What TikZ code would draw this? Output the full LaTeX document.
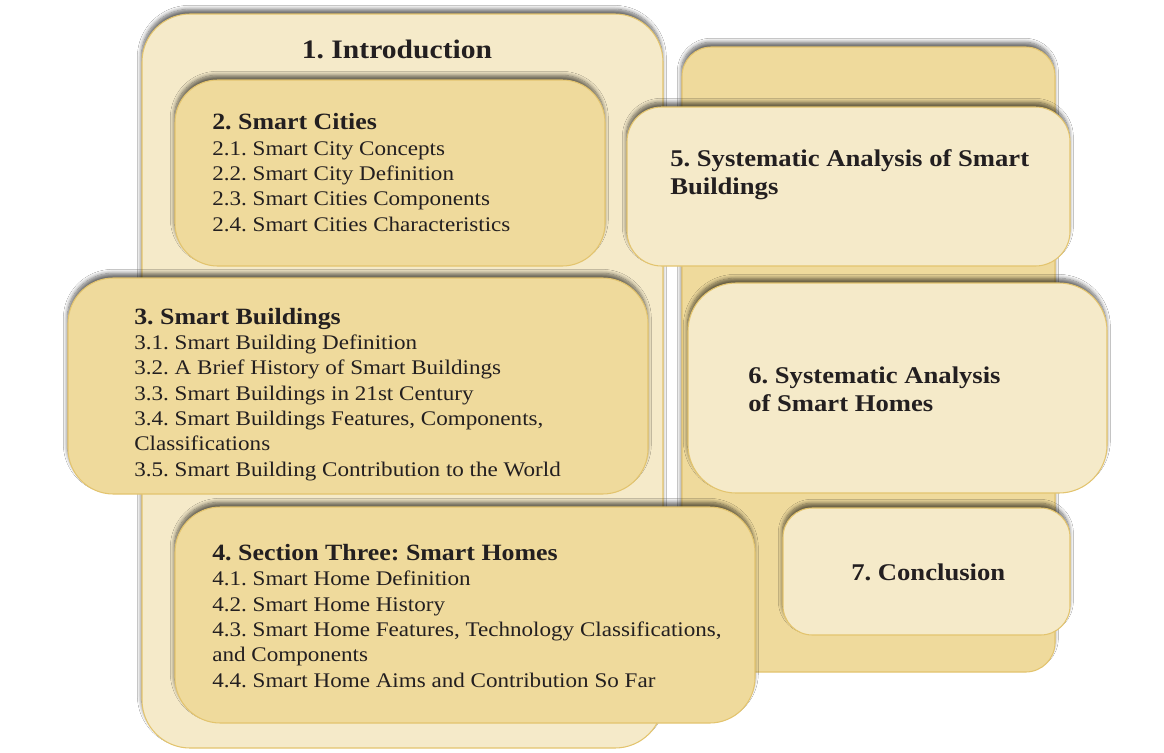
\documentclass[tikz,border=0pt]{standalone}
\usepackage{fontspec}
\setmainfont{Liberation Serif}[FakeStretch=1.11]
\usetikzlibrary{fit,shadows.blur}
\definecolor{lightfill}{HTML}{F5EAC9}
\definecolor{darkfill}{HTML}{EFDA9C}
\definecolor{goldline}{HTML}{E3C46E}
\definecolor{txt}{HTML}{231F20}
\frenchspacing
\tikzset{
  panel/.style={draw=goldline, line width=0.8pt, inner sep=0pt,
    blur shadow={shadow xshift=-0.5pt, shadow yshift=3.5pt, shadow blur radius=3pt, shadow blur steps=8, shadow opacity=60}},
  lightpanel/.style={panel, fill=lightfill},
  darkpanel/.style={panel, fill=darkfill},
  bodytext/.style={anchor=base west, align=left, inner sep=0pt, text=txt, font={\frenchspacing\fontsize{15.6}{19}\selectfont}},
  headtext/.style={anchor=base west, align=left, inner sep=0pt, text=txt, font={\frenchspacing\bfseries\fontsize{18}{21}\selectfont}},
}
\newcommand{\sectitle}[1]{{\bfseries\fontsize{17.5}{19}\selectfont #1}}
\begin{document}
\begin{tikzpicture}[x=0.75pt,y=-0.75pt]
\fill[white] (0,0) rectangle (1164,753);
\path[use as bounding box] (0,0) rectangle (1164,753);
% panels
\node[lightpanel, rounded corners=36pt, fit={(142,14) (663,748)}] (intro) {};
\node[darkpanel, rounded corners=22pt, fit={(682,47) (1055,672)}] (right) {};
\node[darkpanel, rounded corners=32pt, fit={(175,80) (605,266)}] (cities) {};
\node[lightpanel, rounded corners=26pt, fit={(627,107) (1070,266)}] (sab) {};
\node[darkpanel, rounded corners=34pt, fit={(68,278) (648,494)}] (buildings) {};
\node[lightpanel, rounded corners=36pt, fit={(688,283) (1107,493)}] (sah) {};
\node[darkpanel, rounded corners=34pt, fit={(175,507) (755,723)}] (homes) {};
\node[lightpanel, rounded corners=22pt, fit={(783,508) (1070,635)}] (concl) {};
% texts (anchor = baseline of last line)
\node[anchor=base, inner sep=0pt, text=txt, font={\frenchspacing\bfseries\fontsize{20}{24}\selectfont}] (t1) at (397,58) {1. Introduction};
\node[bodytext] (t2) at (212,231) {\sectitle{2. Smart Cities}\\
2.1. Smart City Concepts\\
2.2. Smart City Definition\\
2.3. Smart Cities Components\\
2.4. Smart Cities Characteristics};
\node[bodytext] (t3) at (134,476) {\sectitle{3. Smart Buildings}\\
3.1. Smart Building Definition\\
3.2. A Brief History of Smart Buildings\\
3.3. Smart Buildings in 21st Century\\
3.4. Smart Buildings Features, Components,\\
Classifications\\
3.5. Smart Building Contribution to the World};
\node[bodytext] (t4) at (212,687) {\sectitle{4. Section Three: Smart Homes}\\
4.1. Smart Home Definition\\
4.2. Smart Home History\\
4.3. Smart Home Features, Technology Classifications,\\
and Components\\
4.4. Smart Home Aims and Contribution So Far};
\node[headtext] (t5) at (670,194) {5. Systematic Analysis of Smart\\Buildings};
\node[headtext] (t6) at (748,411) {6. Systematic Analysis\\of Smart Homes};
\node[headtext] (t7) at (851,580) {7. Conclusion};
\end{tikzpicture}
\end{document}
